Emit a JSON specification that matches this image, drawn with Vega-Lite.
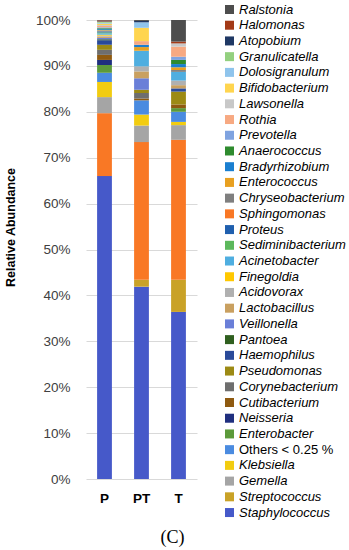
{
  "$schema": "https://vega.github.io/schema/vega-lite/v6.json",
  "autosize": "none",
  "width": 111,
  "height": 459,
  "padding": {"left": 86, "top": 20, "right": 152, "bottom": 71},
  "background": "white",
  "config": {"view": {"stroke": null}, "font": "Liberation Sans"},
  "data": {"values": [
    {"s":"P","t":"Staphylococcus","v":66.0},
    {"s":"P","t":"Sphingomonas","v":13.7},
    {"s":"P","t":"Gemella","v":3.5},
    {"s":"P","t":"Klebsiella","v":3.3},
    {"s":"P","t":"Others < 0.25 %","v":2.0},
    {"s":"P","t":"Enterobacter","v":1.7},
    {"s":"P","t":"Neisseria","v":1.1},
    {"s":"P","t":"Cutibacterium","v":1.1},
    {"s":"P","t":"Corynebacterium","v":1.1},
    {"s":"P","t":"Pseudomonas","v":1.1},
    {"s":"P","t":"Haemophilus","v":1.0},
    {"s":"P","t":"Pantoea","v":0.2},
    {"s":"P","t":"Veillonella","v":0.3},
    {"s":"P","t":"Lactobacillus","v":0.3},
    {"s":"P","t":"Acidovorax","v":0.2},
    {"s":"P","t":"Finegoldia","v":0.2},
    {"s":"P","t":"Acinetobacter","v":0.3},
    {"s":"P","t":"Sediminibacterium","v":0.2},
    {"s":"P","t":"Proteus","v":0.2},
    {"s":"P","t":"Chryseobacterium","v":0.2},
    {"s":"P","t":"Enterococcus","v":0.1},
    {"s":"P","t":"Bradyrhizobium","v":0.2},
    {"s":"P","t":"Anaerococcus","v":0.2},
    {"s":"P","t":"Prevotella","v":0.2},
    {"s":"P","t":"Rothia","v":0.3},
    {"s":"P","t":"Lawsonella","v":0.2},
    {"s":"P","t":"Bifidobacterium","v":0.3},
    {"s":"P","t":"Dolosigranulum","v":0.2},
    {"s":"P","t":"Granulicatella","v":0.2},
    {"s":"P","t":"Atopobium","v":0.1},
    {"s":"P","t":"Halomonas","v":0.2},
    {"s":"P","t":"Ralstonia","v":0.1},
    {"s":"PT","t":"Staphylococcus","v":41.9},
    {"s":"PT","t":"Streptococcus","v":1.5},
    {"s":"PT","t":"Sphingomonas","v":30.0},
    {"s":"PT","t":"Gemella","v":3.6},
    {"s":"PT","t":"Klebsiella","v":2.4},
    {"s":"PT","t":"Others < 0.25 %","v":3.1},
    {"s":"PT","t":"Cutibacterium","v":0.4},
    {"s":"PT","t":"Corynebacterium","v":1.2},
    {"s":"PT","t":"Pseudomonas","v":0.7},
    {"s":"PT","t":"Veillonella","v":2.5},
    {"s":"PT","t":"Lactobacillus","v":1.5},
    {"s":"PT","t":"Acidovorax","v":1.1},
    {"s":"PT","t":"Acinetobacter","v":3.4},
    {"s":"PT","t":"Enterococcus","v":0.8},
    {"s":"PT","t":"Bradyrhizobium","v":0.5},
    {"s":"PT","t":"Rothia","v":0.8},
    {"s":"PT","t":"Bifidobacterium","v":2.9},
    {"s":"PT","t":"Dolosigranulum","v":1.2},
    {"s":"PT","t":"Atopobium","v":0.3},
    {"s":"PT","t":"Ralstonia","v":0.2},
    {"s":"T","t":"Staphylococcus","v":36.4},
    {"s":"T","t":"Streptococcus","v":7.0},
    {"s":"T","t":"Sphingomonas","v":30.5},
    {"s":"T","t":"Gemella","v":3.2},
    {"s":"T","t":"Klebsiella","v":0.7},
    {"s":"T","t":"Others < 0.25 %","v":2.2},
    {"s":"T","t":"Enterobacter","v":0.8},
    {"s":"T","t":"Cutibacterium","v":0.8},
    {"s":"T","t":"Pseudomonas","v":2.8},
    {"s":"T","t":"Haemophilus","v":0.7},
    {"s":"T","t":"Lactobacillus","v":0.7},
    {"s":"T","t":"Acidovorax","v":1.0},
    {"s":"T","t":"Acinetobacter","v":1.9},
    {"s":"T","t":"Chryseobacterium","v":0.4},
    {"s":"T","t":"Enterococcus","v":0.6},
    {"s":"T","t":"Bradyrhizobium","v":0.7},
    {"s":"T","t":"Anaerococcus","v":0.9},
    {"s":"T","t":"Prevotella","v":0.7},
    {"s":"T","t":"Rothia","v":2.2},
    {"s":"T","t":"Lawsonella","v":0.7},
    {"s":"T","t":"Halomonas","v":0.4},
    {"s":"T","t":"Ralstonia","v":4.7}
  ]},
  "transform": [
    {"calculate": "indexof(['Staphylococcus','Streptococcus','Sphingomonas','Gemella','Klebsiella','Others < 0.25 %','Enterobacter','Neisseria','Cutibacterium','Corynebacterium','Pseudomonas','Haemophilus','Pantoea','Veillonella','Lactobacillus','Acidovorax','Finegoldia','Acinetobacter','Sediminibacterium','Proteus','Chryseobacterium','Enterococcus','Bradyrhizobium','Anaerococcus','Prevotella','Rothia','Lawsonella','Bifidobacterium','Dolosigranulum','Granulicatella','Atopobium','Halomonas','Ralstonia'], datum.t)", "as": "rank"}
  ],
  "mark": {"type": "bar"},
  "encoding": {
    "x": {
      "field": "s", "type": "nominal", "sort": ["P","PT","T"],
      "scale": {"paddingInner": 0.6, "paddingOuter": 0.3},
      "axis": {
        "labelAngle": 0, "ticks": false, "domain": false, "labelPadding": 12,
        "labelFont": "Liberation Sans", "labelFontSize": 13.5, "labelFontWeight": "bold", "labelColor": "#000000",
        "title": "(C)", "titleFont": "Liberation Serif", "titleFontSize": 18, "titleFontWeight": "normal",
        "titleColor": "#000000", "titleX": 86, "titleY": 58, "titleAlign": "center", "titleBaseline": "middle"
      }
    },
    "y": {
      "field": "v", "type": "quantitative", "stack": "zero",
      "scale": {"domain": [0, 100], "nice": false},
      "axis": {
        "values": [0,10,20,30,40,50,60,70,80,90,100],
        "labelExpr": "datum.value + '%'",
        "ticks": false, "domain": false, "labelPadding": 16,
        "labelFont": "Liberation Sans", "labelFontSize": 13.5, "labelColor": "#404040",
        "gridColor": "#D9D9D9", "gridWidth": 1,
        "title": "Relative Abundance", "titleFont": "Liberation Sans", "titleFontSize": 12.5, "titleFontWeight": "bold",
        "titleColor": "#000000", "titleAngle": 270, "titleX": -76, "titleY": 207,
        "titleAlign": "center", "titleBaseline": "middle"
      }
    },
    "order": {"field": "rank", "type": "quantitative", "sort": "ascending"},
    "color": {
      "field": "t", "type": "nominal",
      "scale": {
        "domain": ["Ralstonia","Halomonas","Atopobium","Granulicatella","Dolosigranulum","Bifidobacterium","Lawsonella","Rothia","Prevotella","Anaerococcus","Bradyrhizobium","Enterococcus","Chryseobacterium","Sphingomonas","Proteus","Sediminibacterium","Acinetobacter","Finegoldia","Acidovorax","Lactobacillus","Veillonella","Pantoea","Haemophilus","Pseudomonas","Corynebacterium","Cutibacterium","Neisseria","Enterobacter","Others < 0.25 %","Klebsiella","Gemella","Streptococcus","Staphylococcus"],
        "range": ["#4D4D4D","#A33A17","#1F3864","#93D07F","#8FC4EC","#FFD54F","#C8C8C8","#F7A982","#7FA3E0","#2E8B2E","#1A7FD0","#E8A020","#7F7F7F","#F97825","#1F5FAE","#5CB85C","#4FAEE0","#FFC800","#B0B0B0","#C9A060","#6A7FD8","#2F5F1F","#2A4A9A","#9C8A14","#6E6E6E","#8F5A10","#1F2F7F","#5C9A3A","#4A8BE0","#F2CC10","#A5A5A5","#C9A227","#4659C9"]
      },
      "legend": {
        "title": null, "orient": "none", "legendX": 137, "legendY": -17,
        "direction": "vertical", "columns": 1, "padding": 0, "symbolLimit": 60,
        "symbolType": "square", "symbolSize": 81, "symbolStrokeWidth": 0,
        "labelFont": "Liberation Sans", "labelFontSize": 13, "labelColor": "#000000", "labelOffset": 3,
        "rowPadding": 1.72, "labelLimit": 200,
        "encode": {"labels": {"update": {"fontStyle": {"signal": "datum.label === 'Others < 0.25 %' ? 'normal' : 'italic'"}}}}
      }
    }
  }
}
